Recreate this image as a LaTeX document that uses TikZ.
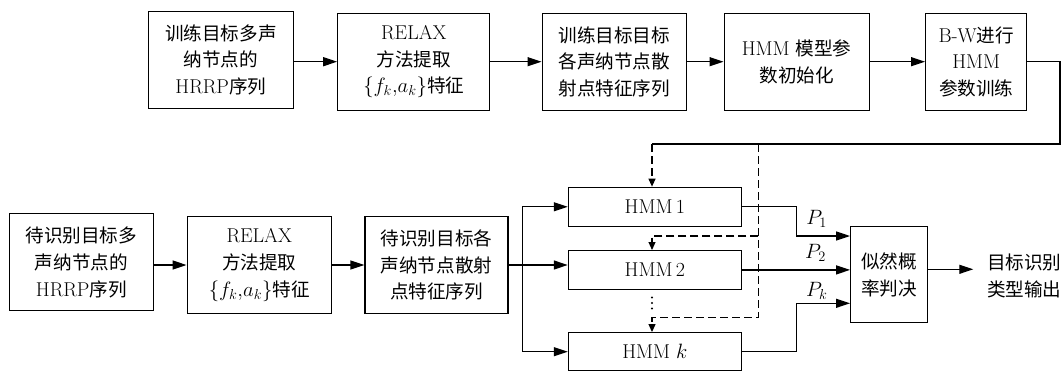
\documentclass[tikz,border=0pt]{standalone}
\usepackage{fontspec}
\newfontfamily\cjk[Scale=0.93]{Noto Sans CJK SC}
\usetikzlibrary{arrows.meta}
\begin{document}
\begin{tikzpicture}[x=1pt,y=-1pt,
  box/.style={draw, line width=1.3pt, inner sep=0pt, align=center, font=\fontsize{20}{26.7}\selectfont},
  lbl/.style={inner sep=0pt, align=center, font=\fontsize{20}{26.7}\selectfont},
  arr/.style={line width=1.3pt, -{Triangle[length=14pt,width=9pt]}},
  ln/.style={line width=1.3pt},
  darr/.style={line width=1.1pt, dash pattern=on 8pt off 4pt, -{Triangle[length=8pt,width=7pt]}},
  dotc/.style={circle, fill, inner sep=0pt, minimum size=2.2pt},
]
\useasboundingbox (0,0) rectangle (1064,372);
% top row
\node[box, minimum width=145pt, minimum height=97pt] (T1) at (220.8,59.7) {{\cjk 训练目标多声}\\{\cjk 纳节点的}\\HRRP{\cjk 序列}};
\node[box, minimum width=152pt, minimum height=97pt] (T2) at (413.8,61.7) {RELAX\\{\cjk 方法提取}\\$\{f_k{,}a_k\}${\cjk 特征}};
\node[box, minimum width=144pt, minimum height=97pt] (T3) at (614.2,61.7) {{\cjk 训练目标目标}\\{\cjk 各声纳节点散}\\{\cjk 射点特征序列}};
\node[box, minimum width=145pt, minimum height=97pt] (T4) at (796.7,61.7) {HMM {\cjk 模型参}\\{\cjk 数初始化}};
\node[box, minimum width=101pt, minimum height=97pt] (T5) at (976.2,61.7) {B-W{\cjk 进行}\\HMM\\{\cjk 参数训练}};
\draw[arr] (T1.east |- T2.west) -- (T2.west);
\draw[arr] (T2.east) -- (T3.west);
\draw[arr] (T3.east) -- (T4.west);
\draw[arr] (T4.east) -- (T5.west);
% bottom row
\node[box, minimum width=144pt, minimum height=97pt] (B1) at (81.3,262.3) {{\cjk 待识别目标多}\\{\cjk 声纳节点的}\\HRRP{\cjk 序列}};
\node[box, minimum width=144pt, minimum height=97pt] (B2) at (259.2,265) {RELAX\\{\cjk 方法提取}\\$\{f_k{,}a_k\}${\cjk 特征}};
\node[box, minimum width=143pt, minimum height=97pt] (B3) at (436.5,265) {{\cjk 待识别目标各}\\{\cjk 声纳节点散射}\\{\cjk 点特征序列}};
\draw[arr] (B1.east |- B2.west) -- (B2.west);
\draw[arr] (B2.east) -- (B3.west);
% HMM boxes
\node[box, minimum width=173pt, minimum height=39pt] (H1) at (654.9,206.8) {HMM\,1};
\node[box, minimum width=173pt, minimum height=38.5pt] (H2) at (654.9,269.9) {HMM\,2};
\node[box, minimum width=173pt, minimum height=38pt] (Hk) at (654.9,351.7) {HMM $k$};
\node[dotc] (d1) at (652,297.5) {};
\node[dotc] (d2) at (652,303) {};
\node[dotc] (d3) at (652,308.5) {};
% decision
\node[box, minimum width=77pt, minimum height=96pt] (D) at (889.2,274.7) {{\cjk 似然概}\\{\cjk 率判决}};
\node[lbl] (out) at (1024.2,275.6) {{\cjk 目标识别}\\{\cjk 类型输出}};
% trunk
\coordinate (S) at (522.7,265);
\draw[ln] (B3.east) -- (S);
\draw[arr] (S) |- (H1.west);
\draw[arr] (S) -- (S -| H2.west);
\draw[arr] (S) |- (Hk.west);
% training feedback
\coordinate (C1) at (1060,144);
\coordinate (J1) at (652,144);
\coordinate (J2) at (758.3,144);
\coordinate (E1) at (758.3,236);
\coordinate (E2) at (758.3,317.3);
\draw[ln] (T5.east) -| (C1) -- (J1);
\draw[darr] (J1) -- (J1 |- H1.north);
\draw[darr] (E1) -| (J1 |- H2.north);
\draw[darr] (J2) -- (E2) -| (J1 |- Hk.north);
% probabilities
\coordinate (K1) at (796.7,236);
\coordinate (Kk) at (796.7,303.3);
\draw[arr] (H1.east) -| (K1) -- (K1 -| D.west);
\draw[arr] (H2.east) -- (H2.east -| D.west);
\draw[arr] (Hk.east) -| (Kk) -- (Kk -| D.west);
\node[lbl] (p1) at (816.7,219.3) {$P_1$};
\node[lbl] (p2) at (815.5,253.3) {$P_2$};
\node[lbl] (pk) at (816.7,290.5) {$P_k$};
% output
\coordinate (O) at (973.3,269.3);
\draw[arr] (D.east |- O) -- (O);
\end{tikzpicture}
\end{document}
